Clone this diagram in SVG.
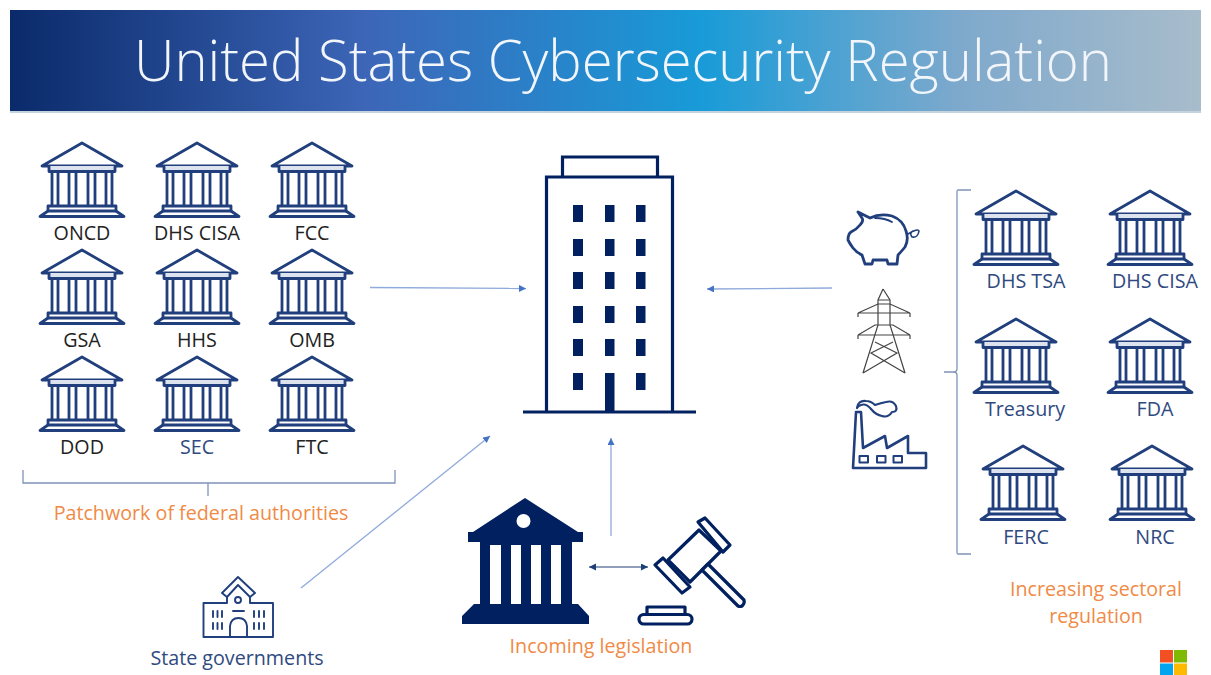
<svg xmlns="http://www.w3.org/2000/svg" width="1211" height="675" viewBox="0 0 1211 675">
<style>
text{font-family:"Open Sans","Noto Sans","Liberation Sans",sans-serif;font-size:19.7px;text-anchor:middle}
.k{fill:#222}
.o{fill:#f08a45}
.b{fill:#2f4a80}
.ic{fill:none;stroke:#203f7c;stroke-width:2.6;stroke-linejoin:round;stroke-linecap:round}
.ln{fill:none;stroke:#8faadc;stroke-width:1.3}
.gr{fill:none;stroke:#7f93b8;stroke-width:1.3}
.d{fill:#002060}
.nv{fill:none;stroke:#002060}
</style>
<defs>
<linearGradient id="hd" x1="0" y1="0" x2="1" y2="0">
<stop offset="0" stop-color="#0a2a6a"/><stop offset=".3" stop-color="#3d66b8"/><stop offset=".58" stop-color="#189bd8"/><stop offset=".8" stop-color="#7fa9cc"/><stop offset="1" stop-color="#a8bccb"/>
</linearGradient>
<marker id="ab" markerWidth="8" markerHeight="8" refX="7" refY="3.5" orient="auto" markerUnits="userSpaceOnUse"><path d="M0 0L7 3.5L0 7z" fill="#4472c4"/></marker>
<marker id="ad" markerWidth="8" markerHeight="8" refX="7" refY="3.5" orient="auto-start-reverse" markerUnits="userSpaceOnUse"><path d="M0 0L7 3.5L0 7z" fill="#1f3f78"/></marker>
<g id="bank" class="ic" style="stroke-width:2.8;stroke-linecap:butt">
<path d="M0 0L40 23H-40Z"/>
<path d="M-33 23V28.500H33V23" fill="#dde3ee"/>
<path d="M-30 28.500V63M-24 28.500V63M-13 28.500V63M-6 28.500V63M6 28.500V63M13 28.500V63M24 28.500V63M30 28.500V63"/>
<path d="M-34 63H34V68H-34Z"/>
<path d="M-34 68L-42 73.500H42L34 68"/>
</g>
</defs>
<rect width="1211" height="675" fill="#fff"/>
<g id="header">
<rect x="10" y="10" width="1191" height="102" fill="url(#hd)"/>
<rect x="10" y="111" width="1191" height="2" fill="#c5d3de"/>
<text x="623" y="81" style="font-size:57px;font-weight:300" fill="#f2f6fb" textLength="978" lengthAdjust="spacingAndGlyphs">United States Cybersecurity Regulation</text>
</g>
<g id="connectors">
<path class="ln" d="M370 287.500L526 288.500" marker-end="url(#ab)"/>
<path class="ln" d="M832 288L707 289" marker-end="url(#ab)"/>
<path class="ln" d="M301 588L490 436" marker-end="url(#ab)"/>
<path class="ln" d="M611 536V438" marker-end="url(#ab)"/>
<path d="M589 567H648" fill="none" stroke="#1f3f78" stroke-width="1.2" marker-start="url(#ad)" marker-end="url(#ad)"/>
</g>
<g id="federal-brace"><path class="gr" d="M23 470V483H208V496M208 483H395V470"/></g>
<g id="sector-brace"><path class="gr" d="M971 190H958Q957 190 957 192V369Q957 372 953 372H944M953 372Q957 372 957 375V552Q957 554 958 554H971"/></g>
<g id="oncd"><use href="#bank" x="82" y="143"/><text class="k" x="82" y="240">ONCD</text></g>
<g id="dhs-cisa-1"><use href="#bank" x="197" y="143"/><text class="k" x="197" y="240">DHS CISA</text></g>
<g id="fcc"><use href="#bank" x="312" y="143"/><text class="k" x="312" y="240">FCC</text></g>
<g id="gsa"><use href="#bank" x="82" y="250"/><text class="k" x="82" y="347">GSA</text></g>
<g id="hhs"><use href="#bank" x="197" y="250"/><text class="k" x="197" y="347">HHS</text></g>
<g id="omb"><use href="#bank" x="312" y="250"/><text class="k" x="312" y="347">OMB</text></g>
<g id="dod"><use href="#bank" x="82" y="357"/><text class="k" x="82" y="454">DOD</text></g>
<g id="sec"><use href="#bank" x="197" y="357"/><text class="b" x="197" y="454">SEC</text></g>
<g id="ftc"><use href="#bank" x="312" y="357"/><text class="k" x="312" y="454">FTC</text></g>
<g id="federal-label"><text class="o" x="201" y="520">Patchwork of federal authorities</text></g>
<g id="dhs-tsa"><use href="#bank" x="1016" y="191"/><text class="b" x="1026" y="288">DHS TSA</text></g>
<g id="dhs-cisa-2"><use href="#bank" x="1150" y="191"/><text class="b" x="1155" y="288">DHS CISA</text></g>
<g id="treasury"><use href="#bank" x="1016" y="319"/><text class="b" x="1025" y="416">Treasury</text></g>
<g id="fda"><use href="#bank" x="1150" y="319"/><text class="b" x="1155" y="416">FDA</text></g>
<g id="ferc"><use href="#bank" x="1023" y="446"/><text class="b" x="1026" y="544">FERC</text></g>
<g id="nrc"><use href="#bank" x="1152" y="446"/><text class="b" x="1155" y="544">NRC</text></g>
<g id="sector-label"><text class="o" x="1096" y="596">Increasing sectoral</text><text class="o" x="1096" y="623">regulation</text></g>
<g id="company">
<path class="nv" stroke-width="3.2" d="M546.500 411V177H672.500V411M562.500 177V157H657.500V177"/>
<path class="nv" stroke-width="3.2" d="M523 412H696"/>
<g class="d">
<rect x="573" y="205" width="10" height="17"/><rect x="605" y="205" width="9.500" height="17"/><rect x="636" y="205" width="9.500" height="17"/>
<rect x="573" y="239" width="10" height="17"/><rect x="605" y="239" width="9.500" height="17"/><rect x="636" y="239" width="9.500" height="17"/>
<rect x="573" y="272" width="10" height="17"/><rect x="605" y="272" width="9.500" height="17"/><rect x="636" y="272" width="9.500" height="17"/>
<rect x="573" y="306" width="10" height="17"/><rect x="605" y="306" width="9.500" height="17"/><rect x="636" y="306" width="9.500" height="17"/>
<rect x="573" y="339" width="10" height="17"/><rect x="605" y="339" width="9.500" height="17"/><rect x="636" y="339" width="9.500" height="17"/>
<rect x="573" y="373" width="10" height="17"/><rect x="605" y="373" width="9.500" height="38"/><rect x="636" y="373" width="9.500" height="17"/>
</g>
</g>
<g id="piggy" class="ic" style="stroke-width:2.8">
<path d="M858 212L870 218Q880 213 892 216Q903 220 906 231Q909 240 905 247Q901 252 898 255L897 264H888L887 260H873L872 264H865L862 255Q856 252 853 248Q850 244 848 240Q848 234 851 232Q857 229 860 225Q864 221 862 218Z"/>
<path d="M875 218Q885 218 892 222" style="stroke-width:1.8"/>
<path d="M908 234Q918 228 919 231Q918 238 912 237Q909 233 913 231" style="stroke-width:1.6"/>
</g>
<g id="pylon" fill="none" stroke="#444" stroke-width="1.2">
<path d="M883 289L878 300V325L863 373M883 289L890 300V325L905 373"/>
<path d="M858 313L878 304H890L910 313M858 335L875 325H893L910 335M858 313V317M910 313V317M858 335V339M910 335V339M858 313H910M858 335H910"/>
<path d="M875 342L897 353L863 373M893 342L871 353L905 373M878 300H890"/>
</g>
<g id="factory" class="ic">
<path d="M853 468L856 412H861L863 448L885 436L887 448L908 436V453H926V468Z"/>
<path d="M857 408Q858 400 866 401Q871 401 875 405Q881 403 886 402Q893 400 896 406Q898 412 892 412Q888 418 882 416Q876 415 871 409Q866 403 861 405Q858 406 857 408Z" style="stroke-width:2.2"/>
<rect x="859.500" y="456" width="8.500" height="6.500" style="stroke-width:2"/><rect x="877" y="456" width="8.500" height="6.500" style="stroke-width:2"/><rect x="893.500" y="456" width="8.500" height="6.500" style="stroke-width:2"/>
</g>
<g id="state-governments">
<g class="ic" style="stroke-width:1.9">
<path d="M227 597V603H203.500V637H273V603H250V597M222 593L238 577L255 593L250 597L238 585L227 597Z"/>
<circle cx="238" cy="600" r="3"/>
<path d="M233 611H244M230 637V626Q231 618 238.500 618Q246 618 247 626V637"/>
<path d="M213 611V617M217.500 611V617M222 611V617M213 623V629M217.500 623V629M222 623V629M254 611V617M259 611V617M264 611V617M254 623V629M259 623V629M264 623V629"/>
</g>
<text class="b" x="237" y="665">State governments</text>
</g>
<g id="legislature">
<path class="d" fill-rule="evenodd" d="M525 498L578 532H583V542H572V604H578L589 616V624H462V616L474 604H480V542H468V532H473ZM490 545V604H501V545ZM511 545V604H521V545ZM531 545V604H541V545ZM551 545V604H561V545Z"/>
<circle cx="523.500" cy="521" r="7" fill="#fff"/>
</g>
<g id="gavel" class="nv" style="stroke-width:3.2;stroke-linejoin:round">
<path d="M668 560L699 530L721 551L690 582Z" fill="#fff"/>
<path d="M655 565L663 558L690 587L682 593ZM698 522L705 518L730 545L723 552Z" fill="#fff"/>
<path d="M702 570L708 564L744 600Q745 603 742 606Q740 607 738 606Z" fill="#fff"/>
<path d="M647 614V607H685V614"/>
<rect x="639" y="614.500" width="53" height="9.500" rx="4.700"/>
</g>
<g id="legislation-label"><text class="o" x="601" y="653">Incoming legislation</text></g>
<g id="logo">
<rect x="1160" y="650" width="13" height="12.500" fill="#f25022"/><rect x="1174" y="650" width="13" height="12.500" fill="#7fba00"/>
<rect x="1160" y="663.500" width="13" height="11.500" fill="#00a4ef"/><rect x="1174" y="663.500" width="13" height="11.500" fill="#ffb900"/>
</g>
</svg>
